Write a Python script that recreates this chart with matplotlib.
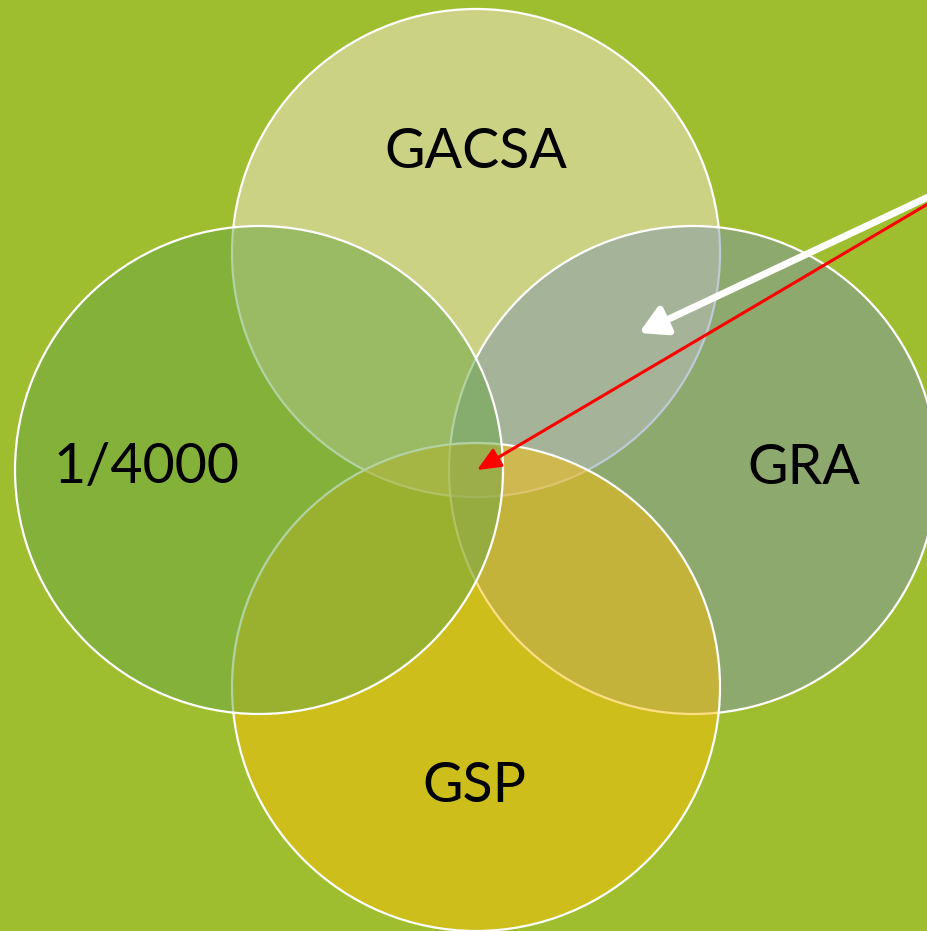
import matplotlib.pyplot as plt
from matplotlib.colors import to_rgb
from matplotlib.patches import Circle

# === Venn data ===
labels = ["GACSA", "GRA", "GSP", "1/4000"]
fills = ["#F9E6D9", "#7F96AD", "#FBBE09", "#69A645"]
fill_alpha = 0.5
background = "#9FBE2F"

# layout: four circles around a middle point (pixel coords, y down)
mid_x, mid_y = 476, 470
offset = 217
radius = 244
directions = {"GACSA": (0, -1), "GRA": (1, 0), "GSP": (0, 1), "1/4000": (-1, 0)}
label_shift = {"GACSA": (0, -318), "GRA": (328, -2), "GSP": (-2, 317), "1/4000": (-329, -2)}

fig = plt.figure(figsize=(9.27, 9.31), dpi=100, facecolor=background)
ax = fig.add_axes([0, 0, 1, 1])
ax.set_xlim(0, 927)
ax.set_ylim(931, 0)
ax.set_facecolor(background)
ax.axis("off")

# bottom-most circle first; edges stay opaque, fills are see-through
for name, color in zip(labels, fills):
    dx, dy = directions[name]
    cx, cy = mid_x + dx * offset, mid_y + dy * offset
    ax.add_patch(Circle((cx, cy), radius, facecolor=(*to_rgb(color), fill_alpha),
                        edgecolor="white", lw=1.6, zorder=2))

for name in labels:
    sx, sy = label_shift[name]
    ax.text(mid_x + sx, mid_y + sy, name, ha="center", va="center",
            fontsize=40, family="Lato", color="black", zorder=5)

# === Arrows from the top right corner ===
ax.annotate("", xy=(639, 333), xytext=(960, 182),
            arrowprops=dict(arrowstyle="-|>,head_length=0.8,head_width=0.45",
                            color="white", lw=5, mutation_scale=20,
                            shrinkA=0, shrinkB=0), zorder=6)
ax.annotate("", xy=(477, 470), xytext=(960, 185),
            arrowprops=dict(arrowstyle="-|>,head_length=0.8,head_width=0.35",
                            color="red", lw=2.2, mutation_scale=18,
                            shrinkA=0, shrinkB=0), zorder=6)

plt.savefig("out.png", dpi=100, facecolor=background)
